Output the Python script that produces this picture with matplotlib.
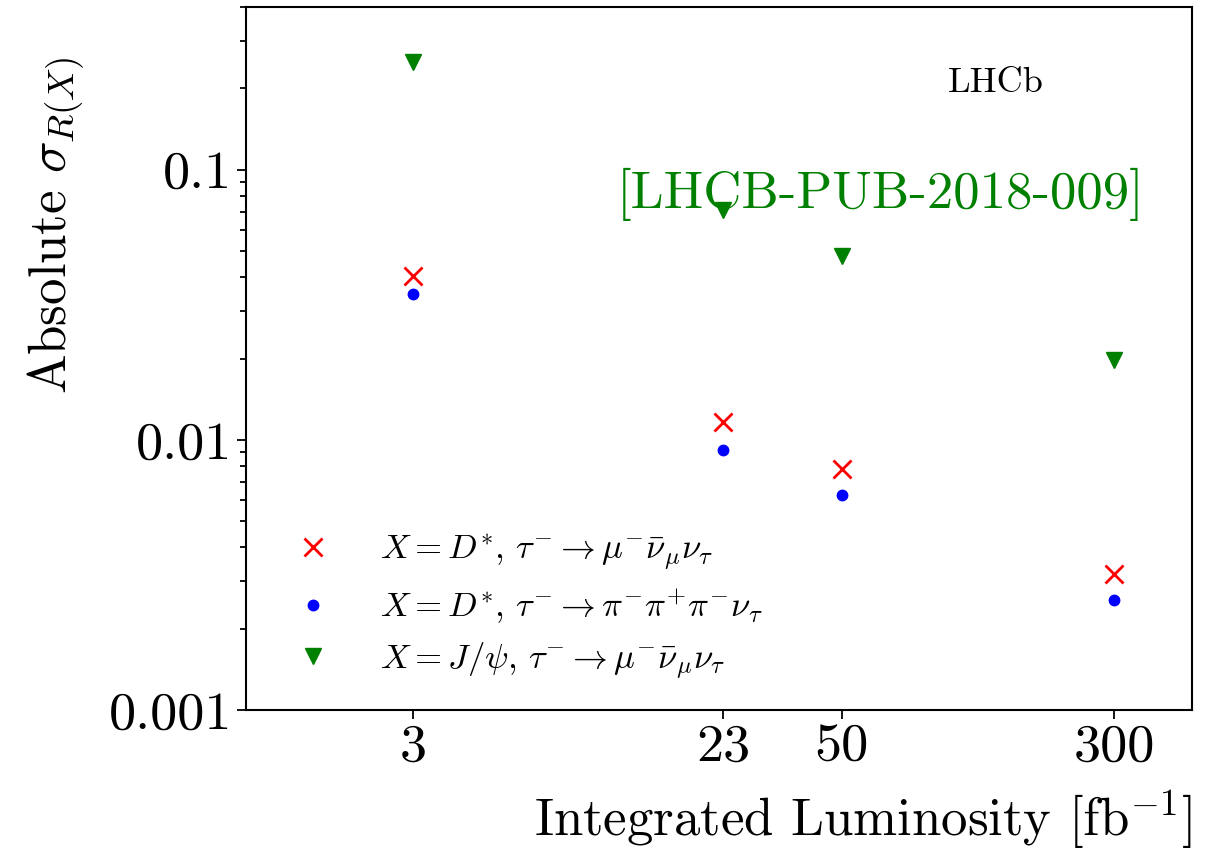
import matplotlib
matplotlib.use('Agg')
import matplotlib.pyplot as plt
from matplotlib.ticker import FixedLocator, FixedFormatter, NullLocator, LogLocator

plt.rcParams['font.family'] = 'cmr10'
plt.rcParams['mathtext.fontset'] = 'cm'
plt.rcParams['axes.formatter.use_mathtext'] = True

lumi = [3, 23, 50, 300]
sig_dstar_mu = [0.0405, 0.0116, 0.0078, 0.0032]
sig_dstar_3pi = [0.0347, 0.0092, 0.00625, 0.00255]
sig_jpsi_mu = [0.25, 0.071, 0.048, 0.0198]

xticks = [3, 23, 50, 300]
yticks = [0.001, 0.01, 0.1]
ylabels = ['0.001', '0.01', '0.1']

fig = plt.figure(figsize=(12.17, 8.55), dpi=100)
ax = fig.add_axes([0.2021, 0.1696, 0.7774, 0.8222])

ax.plot(lumi, sig_dstar_mu, 'x', color='red', ms=13, mew=2,
        label=r'$X = D^{*}$, $\tau^{-} \rightarrow \mu^{-}\bar{\nu}_{\mu}\nu_{\tau}$')
ax.plot(lumi, sig_dstar_3pi, 'o', color='blue', ms=7.5,
        label=r'$X = D^{*}$, $\tau^{-} \rightarrow \pi^{-}\pi^{+}\pi^{-}\nu_{\tau}$')
ax.plot(lumi, sig_jpsi_mu, 'v', color='green', ms=12,
        label=r'$X = J/\psi$, $\tau^{-} \rightarrow \mu^{-}\bar{\nu}_{\mu}\nu_{\tau}$')

ax.set_xscale('log')
ax.set_yscale('log')
ax.set_xlim(1, 500)
ax.set_ylim(0.001, 0.4)

ax.xaxis.set_major_locator(FixedLocator(xticks))
ax.xaxis.set_major_formatter(FixedFormatter([str(v) for v in xticks]))
ax.xaxis.set_minor_locator(NullLocator())
ax.yaxis.set_major_locator(FixedLocator(yticks))
ax.yaxis.set_major_formatter(FixedFormatter(ylabels))
ax.yaxis.set_minor_locator(LogLocator(base=10, subs=range(2, 10)))

ax.tick_params(which='major', labelsize=39, length=6.5, width=1.3)
ax.tick_params(which='minor', length=4, width=1.3)
for s in ax.spines.values():
    s.set_linewidth(1.5)

ax.set_xlabel(r'Integrated Luminosity [fb$^{-1}$]', fontsize=38, loc='right', labelpad=12)
ax.set_ylabel(r'Absolute $\sigma_{R(X)}$', fontsize=38)
ax.yaxis.set_label_coords(-0.167, 0.69)

ax.text(0.793, 0.879, 'LHCb', fontsize=26, ha='center', va='baseline',
        transform=ax.transAxes)
ax.text(0.671, 0.714, '[LHCB-PUB-2018-009]', fontsize=38, color='green',
        ha='center', va='baseline', transform=ax.transAxes)

ax.legend(loc='lower left', frameon=False, fontsize=25, labelspacing=0.42,
          handlelength=2.2, handletextpad=0.83, borderpad=0.42,
          borderaxespad=0.4)

fig.savefig('out.png', dpi=100)
